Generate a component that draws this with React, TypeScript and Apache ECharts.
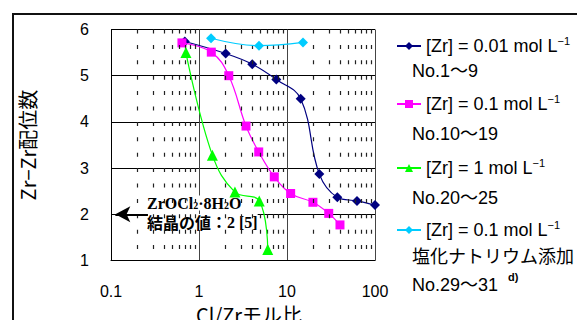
import React, { useEffect, useRef } from 'react';
import * as echarts from 'echarts';

// Cl/Zr molar ratio (x) and Zr–Zr coordination number (y)
const s1X = [0.69, 2.01, 4.03, 7.56, 14.3, 23.3, 37.3, 62.4, 100];
const s1Y = [5.74, 5.48, 5.25, 4.92, 4.5, 2.87, 2.37, 2.29, 2.2];

const s2X = [0.64, 1.38, 2.18, 3.42, 4.77, 7.17, 11.0, 19.7, 29.8, 40.0];
const s2Y = [5.71, 5.51, 5.0, 3.91, 3.35, 2.81, 2.45, 2.26, 2.02, 1.77];

const s3X = [0.71, 1.42, 2.56, 4.84, 6.04];
const s3Y = [5.5, 3.28, 2.48, 2.29, 1.24];

const s4X = [1.37, 4.81, 15.2];
const s4Y = [5.81, 5.65, 5.72];

const seriesNames = [
  '[Zr] = 0.01 mol L−1 No.1〜9',
  '[Zr] = 0.1 mol L−1 No.10〜19',
  '[Zr] = 1 mol L−1 No.20〜25',
  '[Zr] = 0.1 mol L−1 塩化ナトリウム添加 No.29〜31',
];
const legendFirst = ['[Zr] = 0.01 mol L', '[Zr] = 0.1 mol L', '[Zr] = 1 mol L', '[Zr] = 0.1 mol L'];
const legendExtra = [['No.1〜9'], ['No.10〜19'], ['No.20〜25'], ['塩化ナトリウム添加', 'No.29〜31']];
const colors = ['#000080', '#FF00FF', '#00FF00', '#00CCFF'];
const symbols = ['diamond', 'rect', 'triangle', 'diamond'];

const minorX = [
  0.2, 0.3, 0.4, 0.5, 0.6, 0.7, 0.8, 0.9,
  2, 3, 4, 5, 6, 7, 8, 9,
  20, 30, 40, 50, 60, 70, 80, 90,
];
const refY = 2;
const arrowFromX = 0.112;
const arrowToX = 0.263;

const latin = "'Liberation Sans', Arial, 'Noto Sans CJK JP', sans-serif";
const cjk = "'Noto Sans CJK JP', 'Liberation Sans', sans-serif";
const serif = "'Liberation Serif', 'Noto Sans CJK JP', serif";

const zip = (xs: number[], ys: number[]) => xs.map((x, i) => [x, ys[i]]);

export default function App() {
  const ref = useRef<HTMLDivElement>(null);
  useEffect(() => {
    if (!ref.current) return;
    const chart = echarts.init(ref.current, null, { renderer: 'svg' });
    const dataSets = [zip(s1X, s1Y), zip(s2X, s2Y), zip(s3X, s3Y), zip(s4X, s4Y)];
    const legendTops = [35, 93, 157, 219];
    const extraY = [[71], [134], [198], [257, 285]];

    const series: any[] = dataSets.map((d, i) => ({
      name: seriesNames[i],
      type: 'line',
      data: d,
      smooth: 0.4,
      symbol: symbols[i],
      symbolSize: symbols[i] === 'triangle' ? 11 : symbols[i] === 'rect' ? 9 : 10,
      itemStyle: { color: colors[i] },
      lineStyle: { color: colors[i], width: 1.2 },
      z: 3 + i,
    }));
    series.push({
      type: 'line',
      data: [],
      silent: true,
      markLine: {
        silent: true,
        symbol: ['none', 'none'],
        label: { show: false },
        animation: false,
        lineStyle: { type: [4, 11.4], dashOffset: 4, color: '#222', width: 1.2 },
        data: minorX.map((v) => ({ xAxis: v })),
      },
    });
    series.push({
      type: 'line',
      data: [],
      silent: true,
      markLine: {
        silent: true,
        label: { show: false },
        animation: false,
        lineStyle: { type: 'solid', color: '#000', width: 2 },
        data: [
          [
            { coord: [arrowFromX, refY], symbol: 'arrow', symbolSize: [12, 15] },
            { coord: [arrowToX, refY], symbol: 'none' },
          ],
        ],
      },
    });

    const legends = seriesNames.map((n, i) => ({
      data: [n],
      left: 396,
      top: legendTops[i],
      padding: 0,
      itemWidth: 24,
      itemHeight: 10,
      itemGap: 0,
      selectedMode: false,
      formatter: () => `{t|${legendFirst[i]}}{s|−1}`,
      textStyle: {
        rich: {
          t: { fontSize: 18, fontFamily: latin, color: '#000', lineHeight: 22 },
          s: { fontSize: 11, fontFamily: latin, color: '#000', verticalAlign: 'top', lineHeight: 12 },
        },
      },
    }));

    const graphics: any[] = [
      {
        type: 'rect',
        shape: { x: 13, y: 14, width: 620, height: 400 },
        style: { fill: 'none', stroke: '#111', lineWidth: 2 },
        silent: true,
      },
      {
        type: 'text',
        x: 147,
        y: 203,
        z: 1,
        style: {
          text: '{a|ZrOCl}{b|2}{a|·8H}{b|2}{a|O}',
          verticalAlign: 'middle',
          backgroundColor: '#fff',
          rich: {
            a: { fontFamily: serif, fontWeight: 'bold', fontSize: 16, fill: '#000', lineHeight: 15 },
            b: { fontFamily: serif, fontWeight: 'bold', fontSize: 10, fill: '#000', verticalAlign: 'bottom', lineHeight: 11 },
          },
        },
      },
      {
        type: 'text',
        x: 147,
        y: 222,
        z: 1,
        style: {
          text: '{c|結晶の値}{a|：2 [5]}',
          verticalAlign: 'middle',
          backgroundColor: '#fff',
          rich: {
            a: { fontFamily: serif, fontWeight: 'bold', fontSize: 16, fill: '#000', lineHeight: 16 },
            c: { fontFamily: cjk, fontWeight: 'bold', fontSize: 16, fill: '#000', lineHeight: 16 },
          },
        },
      },
      {
        type: 'text',
        x: 508,
        y: 271,
        style: { text: 'd)', font: "bold 11px 'Liberation Sans', Arial, sans-serif", fill: '#000' },
      },
    ];
    legendExtra.forEach((lines, i) => {
      lines.forEach((t, j) => {
        graphics.push({
          type: 'text',
          x: 412,
          y: extraY[i][j],
          style: {
            text: t,
            fontSize: 18,
            fontFamily: latin,
            fill: '#000',
            verticalAlign: 'middle',
          },
        });
      });
    });

    chart.setOption({
      animation: false,
      backgroundColor: '#fff',
      grid: { left: 111, top: 29.5, width: 264, height: 231, outerBoundsMode: 'none', containLabel: false },
      xAxis: {
        type: 'log',
        logBase: 10,
        min: 0.1,
        max: 100,
        name: 'Cl/Zrモル比',
        nameLocation: 'middle',
        nameGap: 43,
        nameTextStyle: { fontSize: 20, fontFamily: cjk, color: '#000', padding: [0, 0, 0, 12] },
        axisLine: { show: true, lineStyle: { color: '#000', width: 1 } },
        axisTick: { show: false },
        axisLabel: { fontSize: 16, fontFamily: latin, color: '#000', margin: 23 },
        splitLine: { show: true, lineStyle: { color: '#444', width: 1 } },
      },
      yAxis: {
        type: 'value',
        min: 1,
        max: 6,
        interval: 1,
        name: 'Zr−Zr配位数',
        nameLocation: 'middle',
        nameGap: 74,
        nameTextStyle: { fontSize: 20, fontFamily: cjk, color: '#000' },
        axisLine: { show: true, lineStyle: { color: '#000', width: 1 } },
        axisTick: { show: false },
        axisLabel: { fontSize: 16, fontFamily: latin, color: '#000', margin: 22 },
        splitLine: { show: true, lineStyle: { color: '#000', width: 1 } },
      },
      legend: legends,
      series,
      graphic: graphics,
    });
    return () => chart.dispose();
  }, []);
  return <div ref={ref} style={{ width: 577, height: 320, position: 'absolute', left: 0, top: 0 }} />;
}
